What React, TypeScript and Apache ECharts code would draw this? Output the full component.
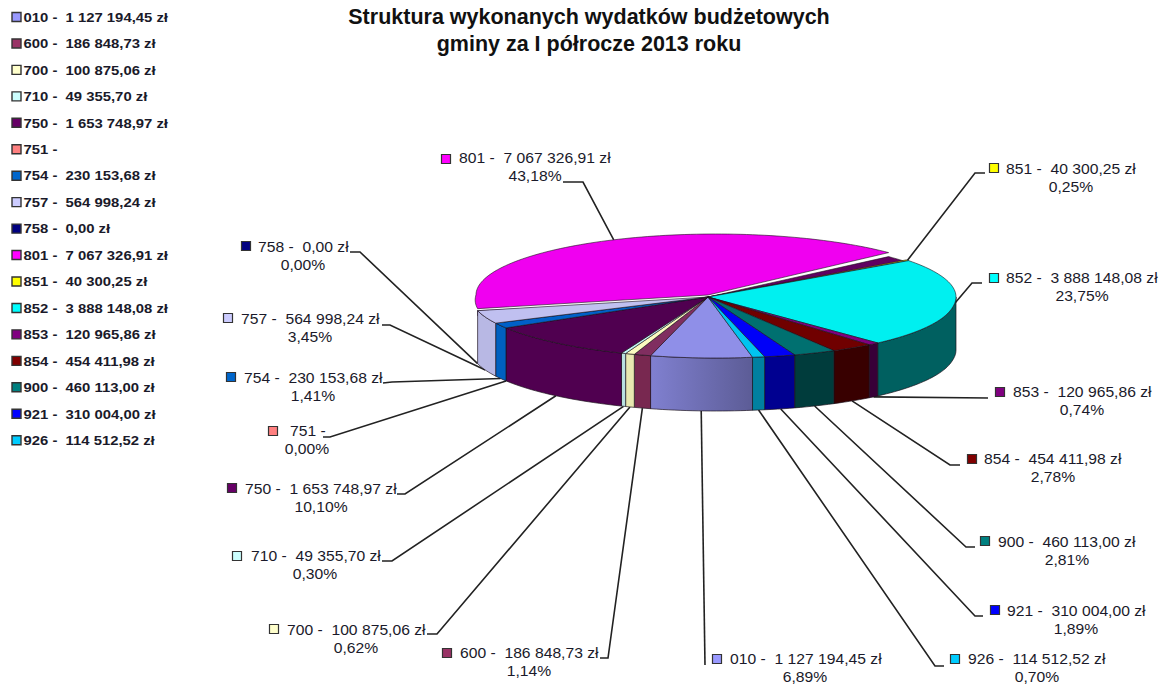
import React, { useEffect, useRef } from "react";
import * as echarts from "echarts";

const titleText = "Struktura wykonanych wydatków budżetowych\ngminy za I półrocze 2013 roku";
const codes = ["010","600","700","710","750","751","754","757","758","801","851","852","853","854","900","921","926"];
const amounts: (number | null)[] = [1127194.45,186848.73,100875.06,49355.70,1653748.97,null,230153.68,564998.24,0,7067326.91,40300.25,3888148.08,120965.86,454411.98,460113.00,310004.00,114512.52];
const percents = ["6,89%","1,14%","0,62%","0,30%","10,10%","0,00%","1,41%","3,45%","0,00%","43,18%","0,25%","23,75%","0,74%","2,78%","2,81%","1,89%","0,70%"];
const topColors = ["#8f8fe8","#802e60","#fbfbc0","#c4f5f5","#500050","#ff8080","#0060c8","#c0c0f0","#000080","#f000f0","#e8e800","#00f0f0","#800080","#700000","#007070","#0000f8","#00c4f0"];
const wallColors = ["#7070b8","#782850","#e8e8b0","#b8e0e0","#500050","#c06060","#0060c0","#b8b8e4","#000060","#600060","#808000","#006060","#380038","#380000","#003c3c","#000090","#0080a0"];
const swatchColors = ["#9999ff","#993366","#ffffcc","#ccffff","#660066","#ff8080","#0066cc","#ccccff","#000080","#ff00ff","#ffff00","#00ffff","#800080","#800000","#008080","#0000ff","#00ccff"];

// Layout (separate from the values)
const CX = 716, CY = 297, RX = 240, RY = 61, DEPTH = 53, START = 171;
const LIFT_INDEX = 9, LIFT = 2, LIFT_TRIM = 6.5;
// slices sit slightly apart in the original: horizontal rim offset by angle
const offsetAngles = [100, 140, 165, 171, 200, 205, 245, 257, 270];
const offsetPixels = [0, 4, 3, -1, 0, 0, -3.5, -4.5, 0];
// swatch x, swatch y, text left, text centre, first-line y
const labelBoxes = [
  [717,659,730,805,659],[447,653,460,529,653],[274,629,287,356,630],[237,556,251,315,556],[232,488,245,321,489],
  [273,431,290,307,431],[231,377,244,313,378],[228,318,241,310,319],[246,246,258,303,247],[446,159,459,535,158],
  [994,168,1006,1071,169],[994,278,1006,1082,278],[1000,392,1013,1082,392],[972,459,984,1053,459],[985,541,998,1067,542],
  [995,610,1007,1076,611],[955,659,968,1037,659],
];
// elbow x, elbow y, end x, end y
const leaderPoints = [
  [705,665,705,665],[608,658,600,658],[437,634,427,634],[392,561,382,561],[405,494,397,494],
  [330,437,323,437],[392,382,383,383],[390,325,382,325],[360,252,350,252],[583,182,563,182],
  [975,173,985,173],[972,283,982,283],[988,398,988,398],[950,465,960,465],[966,547,975,547],
  [975,616,983,616],[935,666,944,666],
];
const LEGEND_TOP = 17, LEGEND_STEP = 26.45;
const FONT = '"Liberation Sans", Arial, sans-serif';

const total = amounts.reduce((s: number, v) => s + (v ?? 0), 0) as number;
const bounds: number[] = [START];
amounts.forEach((v) => bounds.push(bounds[bounds.length - 1] + ((v ?? 0) / total) * 360));

function money(v: number) {
  const [i, d] = v.toFixed(2).split(".");
  return i.replace(/\B(?=(\d{3})+(?!\d))/g, " ") + "," + d;
}
function labelText(i: number) {
  const v = amounts[i];
  return codes[i] + " -" + (v === null ? " " : "  " + money(v) + " zł");
}
function rimOffset(deg: number) {
  const d = ((deg % 360) + 360) % 360;
  for (let k = 0; k < offsetAngles.length - 1; k++) {
    if (d >= offsetAngles[k] && d <= offsetAngles[k + 1]) {
      const f = (d - offsetAngles[k]) / (offsetAngles[k + 1] - offsetAngles[k]);
      return offsetPixels[k] + (offsetPixels[k + 1] - offsetPixels[k]) * f;
    }
  }
  return 0;
}
function rim(deg: number, dy = 0): number[] {
  const t = (deg * Math.PI) / 180;
  return [CX + RX * Math.sin(t) + rimOffset(deg), CY - RY * Math.cos(t) + dy];
}
function arcPts(a: number, b: number, dy = 0): number[][] {
  const n = Math.max(2, Math.ceil(Math.abs(b - a) / 1.5));
  const out: number[][] = [];
  for (let k = 0; k <= n; k++) out.push(rim(a + ((b - a) * k) / n, dy));
  return out;
}
const OUTLINE = "rgba(25,15,25,0.85)";

function renderSlice(_p: any, api: any) {
  const i = api.value(0) as number;
  const a = bounds[i], b = bounds[i + 1];
  const children: any[] = [];
  if (b - a <= 0) return { type: "group", children };
  if (i === LIFT_INDEX) {
    const endT = b - LIFT_TRIM;
    children.push({ type: "polygon", shape: { points: [[CX - 8, CY - LIFT + 5], ...arcPts(a, a, 5), ...arcPts(a, a, 0)] }, style: { fill: wallColors[i], stroke: OUTLINE, lineWidth: 0.7 } });
    children.push({ type: "polygon", shape: { points: [[CX - 8, CY], ...arcPts(endT, b, 2)] }, style: { fill: wallColors[i], stroke: OUTLINE, lineWidth: 0.7 } });
    children.push({ type: "polygon", shape: { points: [[CX - 8, CY - LIFT], ...arcPts(a, endT, -LIFT)] }, style: { fill: topColors[i], stroke: OUTLINE, lineWidth: 0.7 } });
    return { type: "group", children };
  }
  // front wall, visible where the rim faces the viewer
  const shift = a >= 360 ? 360 : 0;
  const wa = Math.max(a - shift, 90), wb = Math.min(b - shift, 270);
  if (wb > wa) {
    const fill = i === 0
      ? new echarts.graphic.LinearGradient(0, 0, 1, 0, [{ offset: 0, color: "#8080d0" }, { offset: 1, color: "#5c5c96" }])
      : wallColors[i];
    children.push({ type: "polygon", shape: { points: [...arcPts(wa, wb, 0), ...arcPts(wb, wa, DEPTH)] }, style: { fill, stroke: OUTLINE, lineWidth: 0.8 } });
  }
  children.push({ type: "polygon", shape: { points: [[CX - 8, CY], ...arcPts(a, b, 0)] }, style: { fill: topColors[i], stroke: OUTLINE, lineWidth: 0.7 } });
  return { type: "group", children };
}

function renderLabel(_p: any, api: any) {
  const i = api.value(0) as number;
  const [sx, sy, tx, tc, ty] = labelBoxes[i];
  const [ex, ey, lx, ly] = leaderPoints[i];
  const mid = (bounds[i] + bounds[i + 1]) / 2;
  const norm = ((mid % 360) + 360) % 360;
  const front = norm > 100 && norm < 270;
  const start = rim(mid, front ? DEPTH : i === LIFT_INDEX ? -LIFT : 0);
  return {
    type: "group",
    children: [
      { type: "polyline", shape: { points: [start, [ex, ey], [lx, ly]] }, style: { fill: "none", stroke: "#222222", lineWidth: 1.6 } },
      { type: "rect", shape: { x: sx - 4.5, y: sy - 4.5, width: 9, height: 9 }, style: { fill: swatchColors[i], stroke: "#333333", lineWidth: 1.2 } },
      { type: "text", x: tx, y: ty, scaleX: 1.12, style: { x: 0, y: 0, text: labelText(i), fill: "#1a1a2a", font: `14px ${FONT}`, align: "left", verticalAlign: "middle" } },
      { type: "text", x: tc, y: ty + 18, scaleX: 1.12, style: { x: 0, y: 0, text: percents[i], fill: "#1a1a2a", font: `14px ${FONT}`, align: "center", verticalAlign: "middle" } },
    ],
  };
}

function renderLegend(_p: any, api: any) {
  const i = api.value(0) as number;
  const y = LEGEND_TOP + i * LEGEND_STEP;
  return {
    type: "group",
    children: [
      { type: "rect", shape: { x: 12, y: y - 4.5, width: 9, height: 9 }, style: { fill: swatchColors[i], stroke: "#333333", lineWidth: 1.4 } },
      { type: "text", x: 23.5, y, scaleX: 1.1, style: { x: 0, y: 0, text: labelText(i), fill: "#1a1a2a", font: `bold 13.5px ${FONT}`, align: "left", verticalAlign: "middle" } },
    ],
  };
}

export default function App() {
  const ref = useRef<HTMLDivElement>(null);
  useEffect(() => {
    document.body.style.margin = "0";
    const chart = echarts.init(ref.current!, undefined, { renderer: "svg" });
    const order = codes.map((_, i) => i).sort((p, q) => (p === LIFT_INDEX ? -1 : q === LIFT_INDEX ? 1 : p - q));
    chart.setOption({
      animation: false,
      backgroundColor: "#ffffff",
      title: {
        text: titleText,
        left: 589,
        top: 3,
        padding: 0,
        textAlign: "center",
        textStyle: { fontFamily: FONT, fontWeight: "bold", fontSize: 21.5, lineHeight: 27, color: "#111111" },
      },
      series: [
        { type: "custom", coordinateSystem: "none", silent: true, data: order.map((i) => [i]), renderItem: renderSlice, z: 3 },
        { type: "custom", coordinateSystem: "none", silent: true, data: codes.map((_, i) => [i]), renderItem: renderLabel, z: 2 },
        { type: "custom", coordinateSystem: "none", silent: true, data: codes.map((_, i) => [i]), renderItem: renderLegend, z: 4 },
      ],
    });
    return () => chart.dispose();
  }, []);
  return <div ref={ref} style={{ width: 1163, height: 684 }} />;
}
